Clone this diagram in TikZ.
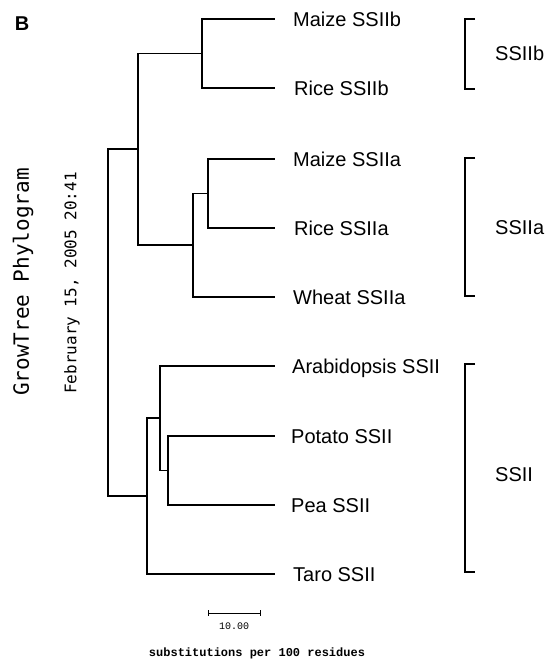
\documentclass[tikz,border=0pt]{standalone}
\usepackage{fontspec}
\usetikzlibrary{calc}
\setmainfont{Liberation Sans}
\newfontfamily\monofont{DejaVu Sans Mono}
\newfontfamily\pixfont{Liberation Mono}
\begin{document}
\begin{tikzpicture}[x=1pt,y=-1pt,
  branch/.style={line width=1.1pt, line cap=rect},
  bracketline/.style={line width=1.8pt},
  leaflabel/.style={anchor=west, inner sep=0pt, text height=14.3pt, text depth=0pt, font=\fontsize{20}{24}\selectfont},
  grouplabel/.style={anchor=west, inner sep=0pt, text height=14.3pt, text depth=0pt, font=\fontsize{20}{24}\selectfont}]
\useasboundingbox (0,0) rectangle (548,669);
\fill[white] (0,0) rectangle (548,669);

% panel letter
\node[inner sep=0pt, font=\fontsize{20}{24}\selectfont\bfseries] (panel) at (22,24) {B};

% rotated titles
\node[rotate=90, inner sep=0pt, font=\monofont\fontsize{21}{24}\selectfont] (title) at (23,282) {GrowTree Phylogram};
\node[rotate=90, inner sep=0pt, font=\monofont\fontsize{16}{19}\selectfont] (date) at (72,283) {February 15, 2005 20:41};

% leaf tips
\coordinate (t1) at (274,19);
\coordinate (t2) at (274,88);
\coordinate (t3) at (274,159);
\coordinate (t4) at (274,228);
\coordinate (t5) at (274,297);
\coordinate (t6) at (274,366);
\coordinate (t7) at (274,436);
\coordinate (t8) at (274,505);
\coordinate (t9) at (274,574);

% leaf labels
\node[leaflabel] (l1) at (293,19) {Maize SSIIb};
\node[leaflabel] (l2) at (294,88) {Rice SSIIb};
\node[leaflabel] (l3) at (293,159) {Maize SSIIa};
\node[leaflabel] (l4) at (294,228) {Rice SSIIa};
\node[leaflabel] (l5) at (293,297) {Wheat SSIIa};
\node[leaflabel] (l6) at (292,366) {Arabidopsis SSII};
\node[leaflabel] (l7) at (291,436) {Potato SSII};
\node[leaflabel] (l8) at (291,505) {Pea SSII};
\node[leaflabel] (l9) at (293,574) {Taro SSII};

% internal nodes
\coordinate (nb) at (202,53.5);
\coordinate (na2) at (208,193.5);
\coordinate (na) at (193,245);
\coordinate (nmono) at (138,149);
\coordinate (npp) at (168,470.5);
\coordinate (nap) at (160,418);
\coordinate (ndic) at (147,496);
\coordinate (root) at (108,322.5);

% branches
\draw[branch] (nb) |- (t1);
\draw[branch] (nb) |- (t2);
\draw[branch] (na2) |- (t3);
\draw[branch] (na2) |- (t4);
\draw[branch] (na) |- (na2);
\draw[branch] (na) |- (t5);
\draw[branch] (nmono) |- (nb);
\draw[branch] (nmono) |- (na);
\draw[branch] (npp) |- (t7);
\draw[branch] (npp) |- (t8);
\draw[branch] (nap) |- (t6);
\draw[branch] (nap) |- (npp);
\draw[branch] (ndic) |- (nap);
\draw[branch] (ndic) |- (t9);
\draw[branch] (root) |- (nmono);
\draw[branch] (root) |- (ndic);

% group brackets
\coordinate (b1t) at (475,19);  \coordinate (b1b) at (475,89);
\coordinate (b2t) at (475,158); \coordinate (b2b) at (475,296);
\coordinate (b3t) at (475,364); \coordinate (b3b) at (475,572);
\draw[bracketline] (b1t) -- ++(-10,0) -- ++(0,70) -- (b1b);
\draw[bracketline] (b2t) -- ++(-10,0) -- ++(0,138) -- (b2b);
\draw[bracketline] (b3t) -- ++(-10,0) -- ++(0,208) -- (b3b);
\node[grouplabel] (g1) at (495,53) {SSIIb};
\node[grouplabel] (g2) at (495,227) {SSIIa};
\node[grouplabel] (g3) at (495,474) {SSII};

% scale bar
\coordinate (s1) at (208,613);
\coordinate (s2) at (260,613);
\draw[line width=1pt] (s1) -- (s2);
\draw[line width=0.8pt] ($(s1)+(0,-3)$) -- ($(s1)+(0,3)$);
\draw[line width=0.8pt] ($(s2)+(0,-3)$) -- ($(s2)+(0,3)$);
\node[inner sep=0pt, font=\pixfont\fontsize{10}{12}\selectfont] (scale) at (234,626) {10.00};
\node[inner sep=0pt, font=\pixfont\bfseries\fontsize{12}{14}\selectfont] (units) at (257,653) {substitutions per 100 residues};
\end{tikzpicture}
\end{document}
